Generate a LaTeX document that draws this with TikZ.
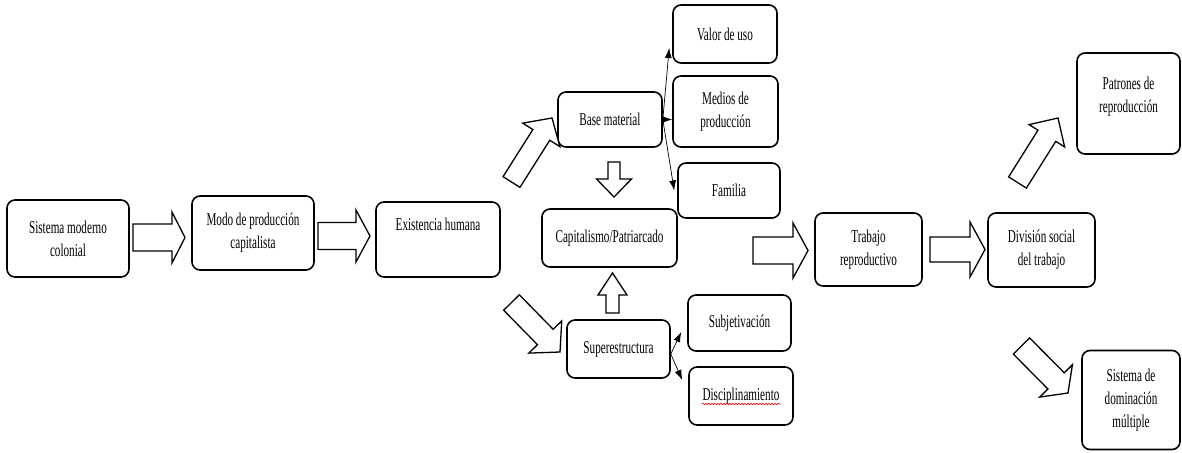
\documentclass[tikz,border=0pt]{standalone}
\usepackage{fontspec}
\setmainfont{Liberation Serif}[FakeStretch=0.62]
\usetikzlibrary{arrows.meta, calc, positioning, decorations.pathmorphing}

\tikzset{
	arrshaft/.store in=\arrshaft, arrhead/.store in=\arrhead, arrlen/.store in=\arrlen,
	arrshaft=13pt, arrhead=26pt, arrlen=14pt
}

\begin{document}
\begin{tikzpicture}[x=1pt, y=-1pt,
	box/.style={rectangle, draw, line width=1.6pt, rounded corners=8pt, align=center, inner sep=0pt, font=\fontsize{18pt}{23pt}\selectfont},
	bigarrow/.style={draw, line width=1.3pt, fill=white, line join=miter, to path={
		($(\tikztostart)!\arrshaft!90:(\tikztotarget)$)
		-- ($(\tikztotarget)!\arrlen!(\tikztostart)!\arrshaft!-90:(\tikztostart)$)
		-- ($(\tikztotarget)!\arrlen!(\tikztostart)!\arrhead!-90:(\tikztostart)$)
		-- (\tikztotarget)
		-- ($(\tikztotarget)!\arrlen!(\tikztostart)!\arrhead!90:(\tikztostart)$)
		-- ($(\tikztotarget)!\arrlen!(\tikztostart)!\arrshaft!90:(\tikztostart)$)
		-- ($(\tikztostart)!\arrshaft!-90:(\tikztotarget)$) -- cycle}},
	link/.style={-{Latex[length=10pt,width=7pt]}, line width=0.7pt},
	squiggle/.style={red, line width=0.6pt, decorate, decoration={snake, amplitude=0.8pt, segment length=3pt}}]
	
	\useasboundingbox[fill=white] (0,0) rectangle (1182,452);
	
	% main line
	\node[box, minimum width=122pt, minimum height=77pt] (sis) at (68,238.5) {Sistema moderno\\colonial};
	\node[box, minimum width=122pt, minimum height=74pt] (mod) at (253,233) {Modo de producción\\capitalista};
	\node[box, minimum width=124pt, minimum height=75pt, text height=13pt, text depth=32pt] (exi) at (438,239.5) {Existencia humana};
	\node[box, minimum width=135pt, minimum height=58pt] (cap) at (609.5,238) {Capitalismo/Patriarcado};
	
	% base material
	\node[box, minimum width=104pt, minimum height=55pt] (base) at (610,119.5) {Base material};
	\node[box, minimum width=104pt, minimum height=58pt] (val) at (725,34) {Valor de uso};
	\node[box, minimum width=105pt, minimum height=71pt] (med) at (725.5,111.5) {Medios de\\producción};
	\node[box, minimum width=102pt, minimum height=55pt] (fam) at (729,190.5) {Familia};
	
	% superestructura
	\node[box, minimum width=103pt, minimum height=58pt] (sup) at (618.5,349) {Superestructura};
	\node[box, minimum width=103pt, minimum height=56pt] (subj) at (739.5,323) {Subjetivación};
	\node[box, minimum width=104pt, minimum height=58pt] (disc) at (741,396) {Disciplinamiento};
	
	% right side
	\node[box, minimum width=107pt, minimum height=73pt] (trab) at (868.5,249.5) {Trabajo\\reproductivo};
	\node[box, minimum width=107pt, minimum height=74pt] (div) at (1041.5,250) {División social\\del trabajo};
	\node[box, minimum width=103pt, minimum height=101pt, text height=36pt, text depth=19pt] (pat) at (1128.5,103.5) {Patrones de\\reproducción};
	\node[box, minimum width=98pt, minimum height=99pt] (sdm) at (1131,400) {Sistema de\\dominación\\múltiple};
	
	\draw[squiggle] ([xshift=-39pt,yshift=-8pt]disc.center) -- ([xshift=39pt,yshift=-8pt]disc.center);
	
	% ends of the big arrows
	\coordinate (a1s) at (133,237.5);   \coordinate (a1e) at (185,237.5);
	\coordinate (a2s) at (318,236);     \coordinate (a2e) at (370,236);
	\coordinate (a3s) at (511.5,182);   \coordinate (a3e) at (552,118);
	\coordinate (a4s) at (511.5,302.5); \coordinate (a4e) at (560,352);
	\coordinate (a5s) at (614,162);     \coordinate (a5e) at (614,197);
	\coordinate (a6s) at (612.5,313);   \coordinate (a6e) at (612.5,273);
	\coordinate (a7s) at (753,250.5);   \coordinate (a7e) at (808,250.5);
	\coordinate (a8s) at (930,249.5);   \coordinate (a8e) at (985,249.5);
	\coordinate (a9s) at (1017.5,182.5);\coordinate (a9e) at (1058,118);
	\coordinate (a10s) at (1021.5,346); \coordinate (a10e) at (1068,393);
	
	\draw[bigarrow, arrshaft=13.5pt, arrhead=25.5pt, arrlen=13pt] (a1s) to (a1e);
	\draw[bigarrow, arrshaft=13.5pt, arrhead=26pt, arrlen=14pt] (a2s) to (a2e);
	\draw[bigarrow, arrshaft=10pt, arrhead=22pt, arrlen=20pt] (a3s) to (a3e);
	\draw[bigarrow, arrshaft=11pt, arrhead=23pt, arrlen=21pt] (a4s) to (a4e);
	\draw[bigarrow, arrshaft=6pt, arrhead=17.5pt, arrlen=18pt] (a5s) to (a5e);
	\draw[bigarrow, arrshaft=6.5pt, arrhead=14.5pt, arrlen=22pt] (a6s) to (a6e);
	\draw[bigarrow, arrshaft=13.5pt, arrhead=27.5pt, arrlen=15pt] (a7s) to (a7e);
	\draw[bigarrow, arrshaft=12.5pt, arrhead=27.5pt, arrlen=15pt] (a8s) to (a8e);
	\draw[bigarrow, arrshaft=10.5pt, arrhead=21pt, arrlen=21pt] (a9s) to (a9e);
	\draw[bigarrow, arrshaft=11.5pt, arrhead=23pt, arrlen=17pt] (a10s) to (a10e);
	
	% thin arrows
	\draw[link] (base.east) -- ([xshift=-3pt,yshift=-14pt]val.west);
	\draw[link] (base.east) -- (base.east -| med.west);
	\draw[link] (base.east) -- ([xshift=-3pt]fam.west);
	\draw[link] ([yshift=-5pt]sup.east) -- ([xshift=-6pt,yshift=-9pt]subj.west);
	\draw[link] ([yshift=-5pt]sup.east) -- ([xshift=-6pt,yshift=16pt]disc.west);
	
\end{tikzpicture}
\end{document}
